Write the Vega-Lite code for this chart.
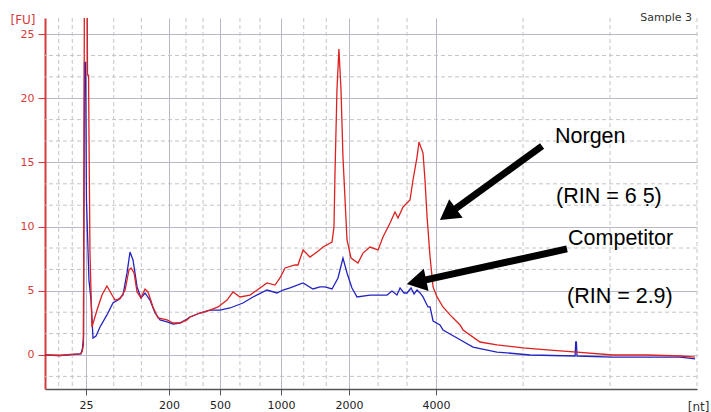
{
  "$schema": "https://vega.github.io/schema/vega-lite/v6.json",
  "width": 652,
  "height": 371,
  "autosize": {"type": "none"},
  "padding": {"left": 45, "top": 18, "right": 14, "bottom": 23},
  "background": "white",
  "config": {
    "view": {"stroke": null},
    "axis": {"labelFont": "DejaVu Sans", "labelFontSize": 11, "titleFont": "DejaVu Sans"}
  },
  "datasets": {
    "norgen": [
      [19.00,0],[20.15,-0.04],[20.92,0.04],[21.68,0.08],[21.84,0.23],[21.95,0.78],[22.03,32],[22.22,32],[22.26,21.8],[22.34,21.8],[22.37,17.5],[22.45,7.94],[22.60,2.18],[22.99,3.50],[23.37,4.67],[23.75,5.37],[24.14,4.67],[24.37,4.28],[24.75,4.36],[25.14,5.06],[25.44,6.62],[25.60,6.78],[25.83,6.39],[26.06,4.91],[26.36,4.44],[26.67,5.14],[26.90,4.91],[27.28,3.74],[27.67,2.88],[28.36,2.73],[28.82,2.49],[29.35,2.49],[29.89,2.73],[30.12,2.96],[30.89,3.27],[31.65,3.50],[32.27,3.74],[32.96,4.28],[33.42,4.91],[33.95,4.52],[34.72,4.67],[35.49,5.22],[36.02,5.61],[36.64,5.45],[37.02,6.00],[37.41,6.78],[38.17,7.01],[38.40,7.01],[38.79,8.18],[39.32,7.63],[39.86,8.02],[40.32,8.41],[41.01,8.80],[41.16,9.97],[41.24,14.17],[41.39,20.64],[41.54,23.83],[41.70,20.64],[41.85,15.42],[42.16,8.96],[42.47,7.55],[43.00,7.17],[43.39,7.94],[43.92,8.41],[44.54,8.18],[44.92,9.19],[45.46,10.28],[45.84,11.14],[46.07,10.67],[46.46,11.53],[46.99,12.07],[47.22,13.63],[47.53,15.42],[47.68,16.59],[47.99,15.73],[48.14,13.63],[48.30,10.75],[48.53,7.63],[48.76,5.30],[49.06,4.52],[49.52,3.74],[50.06,3.12],[50.83,2.34],[51.06,1.95],[52.36,1.01],[53.66,0.78],[55.66,0.55],[57.50,0.39],[59.80,0.23],[62.56,0.00],[65.17,0.00],[67.70,-0.08],[68.85,-0.16]
    ],
    "competitor": [
      [19.00,0],[20.15,-0.04],[21.30,0.04],[21.76,0.08],[21.88,0.55],[21.95,1.40],[22.03,22.8],[22.11,22.8],[22.18,12.1],[22.37,5.85],[22.53,4.28],[22.68,1.32],[22.91,1.48],[23.22,2.18],[23.75,3.12],[24.21,4.05],[24.60,4.28],[24.98,4.67],[25.29,6.39],[25.52,8.02],[25.75,7.40],[26.06,5.30],[26.36,4.44],[26.67,4.83],[27.05,4.28],[27.44,3.27],[27.82,2.73],[28.36,2.57],[28.82,2.41],[29.35,2.49],[29.89,2.80],[30.12,2.96],[30.89,3.27],[31.65,3.50],[32.42,3.50],[33.19,3.66],[34.18,4.05],[34.95,4.52],[36.02,5.06],[36.79,4.83],[37.25,5.06],[37.79,5.22],[38.79,5.61],[39.55,5.14],[40.09,5.30],[40.47,5.30],[41.01,5.14],[41.47,6.00],[41.85,7.55],[42.16,6.39],[42.54,5.22],[42.93,4.52],[43.92,4.67],[45.23,4.67],[45.61,4.98],[45.99,4.67],[46.23,5.22],[46.53,4.83],[46.76,4.83],[47.07,5.22],[47.30,4.75],[47.53,5.06],[47.76,4.83],[47.99,4.52],[48.37,3.74],[48.53,3.74],[48.76,2.65],[49.29,2.34],[49.52,1.95],[50.60,1.32],[51.82,0.62],[53.66,0.23],[56.19,0],[59.65,-0.08],[59.70,1.01],[59.75,1.01],[59.80,-0.08],[62.56,-0.16],[65.17,-0.16],[67.70,-0.16],[68.85,-0.31]
    ],
    "minorX": [{"t": 20.05}, {"t": 21.09}, {"t": 24.27}, {"t": 26.39}, {"t": 29.81}, {"t": 31.12}, {"t": 33.95}, {"t": 35.49}, {"t": 38.84}, {"t": 40.57}, {"t": 44.54}, {"t": 46.76}, {"t": 55.66}, {"t": 62.33}, {"t": 69.0}],
    "minorY": [{"fu": -1.667}, {"fu": 1.667}, {"fu": 3.333}, {"fu": 6.667}, {"fu": 8.333}, {"fu": 11.667}, {"fu": 13.333}, {"fu": 16.667}, {"fu": 18.333}, {"fu": 21.667}, {"fu": 23.333}],
    "arrows": [
      {"name": "Norgen", "t": 57.12, "fu": 16.28, "t2": 49.90, "fu2": 10.96},
      {"name": "Competitor", "t": 59.03, "fu": 8.26, "t2": 47.49, "fu2": 5.69}
    ],
    "notes": [
      {"t": 58.11, "fu": 16.51, "label": "Norgen"},
      {"t": 58.19, "fu": 11.84, "label": "(RIN = 6 5̣)"},
      {"t": 59.11, "fu": 8.57, "label": "Competitor"},
      {"t": 59.03, "fu": 4.05, "label": "(RIN = 2.9)"}
    ],
    "sample": [{"t": 68.62, "fu": 26.0, "label": "Sample 3"}]
  },
  "layer": [
    {
      "data": {"name": "competitor"},
      "transform": [{"calculate": "datum[0]", "as": "t"}, {"calculate": "datum[1]", "as": "fu"}],
      "mark": {"type": "line", "color": "#2323c2", "strokeWidth": 1.3, "strokeOpacity": 0, "clip": true},
      "encoding": {
        "x": {
          "field": "t", "type": "quantitative",
          "scale": {"domain": [19, 69], "nice": false, "zero": false},
          "axis": {
            "values": [22.14, 28.51, 32.42, 37.10, 42.31, 48.99],
            "labelExpr": "datum.value < 25 ? '25' : datum.value < 30 ? '200' : datum.value < 35 ? '500' : datum.value < 40 ? '1000' : datum.value < 45 ? '2000' : '4000'",
            "grid": true, "gridColor": "#b8b8c8", "gridWidth": 1,
            "domainColor": "#555555", "domainWidth": 1.5,
            "tickColor": "#555555", "tickSize": 6, "labelPadding": 4, "labelColor": "#222222",
            "title": "[nt]", "titleX": 664, "titleY": 21, "titleAlign": "right", "titleBaseline": "alphabetic",
            "titleFontWeight": "normal", "titleFontSize": 12, "titleColor": "#333333"
          }
        },
        "y": {
          "field": "fu", "type": "quantitative",
          "scale": {"domain": [-2.65, 26.25], "nice": false, "zero": false},
          "axis": {
            "values": [0, 5, 10, 15, 20, 25],
            "grid": true, "gridColor": "#b8b8c8", "gridWidth": 1,
            "domainColor": "#d63a3a", "domainWidth": 2,
            "tickColor": "#d63a3a", "tickSize": 7, "labelPadding": 4, "labelColor": "#d63a3a",
            "title": "[FU]", "titleAngle": 0, "titleX": -35, "titleY": 5, "titleAlign": "left", "titleBaseline": "alphabetic",
            "titleFontWeight": "normal", "titleFontSize": 12, "titleColor": "#d63a3a"
          }
        }
      }
    },
    {
      "data": {"name": "minorX"},
      "mark": {"type": "rule", "color": "#c4c4c4", "strokeDash": [4, 3], "strokeWidth": 1},
      "encoding": {
        "x": {"field": "t", "type": "quantitative"}
      }
    },
    {
      "data": {"name": "minorY"},
      "mark": {"type": "rule", "color": "#c4c4c4", "strokeDash": [4, 3], "strokeWidth": 1},
      "encoding": {
        "y": {"field": "fu", "type": "quantitative"}
      }
    },
    {
      "data": {"name": "competitor"},
      "transform": [{"calculate": "datum[0]", "as": "t"}, {"calculate": "datum[1]", "as": "fu"}],
      "mark": {"type": "line", "color": "#2323c2", "strokeWidth": 1.3, "clip": true},
      "encoding": {
        "x": {"field": "t", "type": "quantitative"},
        "y": {"field": "fu", "type": "quantitative"}
      }
    },
    {
      "data": {"name": "norgen"},
      "transform": [{"calculate": "datum[0]", "as": "t"}, {"calculate": "datum[1]", "as": "fu"}],
      "mark": {"type": "line", "color": "#dd2020", "strokeWidth": 1.3, "clip": true},
      "encoding": {
        "x": {"field": "t", "type": "quantitative"},
        "y": {"field": "fu", "type": "quantitative"}
      }
    },
    {
      "data": {"name": "arrows"},
      "mark": {"type": "rule", "color": "black", "strokeWidth": 7, "strokeCap": "butt"},
      "encoding": {
        "x": {"field": "t", "type": "quantitative"},
        "y": {"field": "fu", "type": "quantitative"},
        "x2": {"field": "t2"},
        "y2": {"field": "fu2"}
      }
    },
    {
      "data": {"name": "arrows"},
      "transform": [{"filter": "datum.name == 'Norgen'"}],
      "mark": {"type": "point", "shape": "triangle-up", "filled": true, "color": "black", "opacity": 1, "size": 520, "angle": 234},
      "encoding": {
        "x": {"field": "t2", "type": "quantitative"},
        "y": {"field": "fu2", "type": "quantitative"}
      }
    },
    {
      "data": {"name": "arrows"},
      "transform": [{"filter": "datum.name == 'Competitor'"}],
      "mark": {"type": "point", "shape": "triangle-up", "filled": true, "color": "black", "opacity": 1, "size": 520, "angle": 258},
      "encoding": {
        "x": {"field": "t2", "type": "quantitative"},
        "y": {"field": "fu2", "type": "quantitative"}
      }
    },
    {
      "data": {"name": "notes"},
      "mark": {"type": "text", "align": "left", "baseline": "alphabetic", "font": "Liberation Sans", "fontSize": 21.5, "color": "black"},
      "encoding": {
        "x": {"field": "t", "type": "quantitative"},
        "y": {"field": "fu", "type": "quantitative"},
        "text": {"field": "label"}
      }
    },
    {
      "data": {"name": "sample"},
      "mark": {"type": "text", "align": "right", "baseline": "alphabetic", "font": "DejaVu Sans", "fontSize": 11, "color": "#333333"},
      "encoding": {
        "x": {"field": "t", "type": "quantitative"},
        "y": {"field": "fu", "type": "quantitative"},
        "text": {"field": "label"}
      }
    }
  ]
}
